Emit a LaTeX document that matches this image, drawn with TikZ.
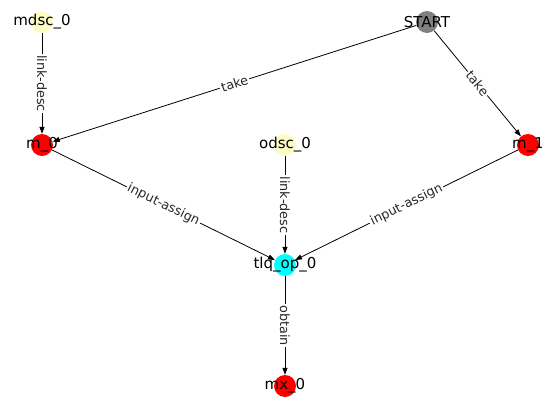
\documentclass[tikz,border=0pt]{standalone}
\usepackage{fontspec}
\setmainfont{DejaVu Sans}
\usetikzlibrary{arrows.meta}

\definecolor{descyellow}{RGB}{252,252,196}
\definecolor{startgray}{RGB}{128,128,128}
\definecolor{opcyan}{RGB}{0,255,255}

\begin{document}
\begin{tikzpicture}[x=1pt,y=-1pt,
    vtx/.style={circle,minimum size=22pt,inner sep=0pt},
    vlbl/.style={font=\fontsize{15}{18}\selectfont,text=black,inner sep=0pt},
    edge/.style={draw=black,line width=0.8pt,-{Triangle[length=7pt,width=5pt]}},
    elbl/.style={sloped,fill=white,inner sep=1.5pt,text=black!85,font=\fontsize{12.8}{15}\selectfont}]
      \useasboundingbox (0,0) rectangle (542,405);

      \node [vtx,fill=descyellow,label={[vlbl]center:mdsc\_0}] (mdsc0) at (42,22) {};
      \node [vtx,fill=startgray,label={[vlbl]center:START}] (start) at (427,22) {};
      \node [vtx,fill=red,label={[vlbl]center:m\_0}] (m0) at (42,145) {};
      \node [vtx,fill=red,label={[vlbl]center:m\_1}] (m1) at (528,145) {};
      \node [vtx,fill=descyellow,label={[vlbl]center:odsc\_0}] (odsc0) at (285,145) {};
      \node [vtx,fill=opcyan,label={[vlbl]center:tlq\_op\_0}] (tlq) at (285,265) {};
      \node [vtx,fill=red,label={[vlbl]center:mx\_0}] (mx0) at (285,386) {};

      \draw [edge] (mdsc0) -- node [elbl] {link-desc} (m0);
      \draw [edge] (start) -- node [elbl] {take} (m0);
      \draw [edge] (start) -- node [elbl] {take} (m1);
      \draw [edge] (m0) -- node [elbl] {input-assign} (tlq);
      \draw [edge] (m1) -- node [elbl] {input-assign} (tlq);
      \draw [edge] (odsc0) -- node [elbl] {link-desc} (tlq);
      \draw [edge] (tlq) -- node [elbl] {obtain} (mx0);

\end{tikzpicture}
\end{document}
